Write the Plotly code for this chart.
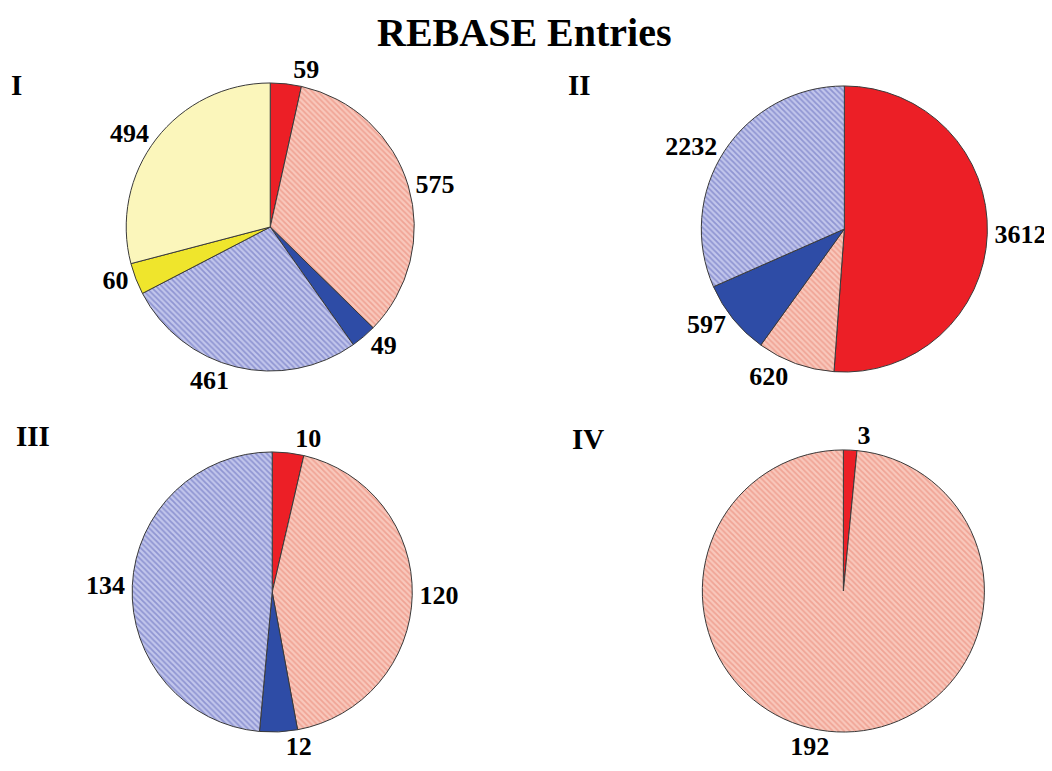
import plotly.graph_objects as go

# ---- data ----
panel_names = ["I", "II", "III", "IV"]
cats_I = ["a", "b", "c", "d", "e", "f"]
vals_I = [59, 575, 49, 461, 60, 494]
cats_II = ["a", "b", "c", "d"]
vals_II = [3612, 620, 597, 2232]
cats_III = ["a", "b", "c", "d"]
vals_III = [10, 120, 12, 134]
cats_IV = ["a", "b"]
vals_IV = [3, 192]
title_text = "REBASE Entries"

# ---- styles ----
OFF = 8  # page body margin
W, H = 1052 - OFF, 771 - OFF
RED = "#ec1f26"
PINK_BG = "#f9c8bc"
PINK_FG = "#f0a495"
LAV_BG = "#c2c6ec"
LAV_FG = "#8f95d2"
BLUE = "#2e4ca6"
YEL = "#efe52c"
LYEL = "#fbf6bb"

style = {
    "a": dict(color=RED, shape=""),
    "b": dict(color=PINK_BG, shape="\\", bg=PINK_BG, fg=PINK_FG),
    "c": dict(color=BLUE, shape=""),
    "d": dict(color=LAV_BG, shape="\\", bg=LAV_BG, fg=LAV_FG),
    "e": dict(color=YEL, shape=""),
    "f": dict(color=LYEL, shape=""),
}

def marker_for(cats):
    colors = [style[c]["color"] for c in cats]
    shapes = [style[c]["shape"] for c in cats]
    bgs = [style[c].get("bg", style[c]["color"]) for c in cats]
    fgs = [style[c].get("fg", style[c]["color"]) for c in cats]
    return dict(
        colors=colors,
        line=dict(color="#3a3a3a", width=1),
        pattern=dict(shape=shapes, bgcolor=bgs, fgcolor=fgs, size=4, solidity=0.45, fillmode="replace"),
    )

# pixel centers / radii of each pie in the screenshot (layout)
centers = [(272, 227, 145), (850, 229, 144), (274, 592, 141), (849, 591, 142)]

def domain(cx, cy, r):
    cx -= OFF
    cy -= OFF
    return dict(x=[(cx - r) / W, (cx + r) / W],
                y=[(H - cy - r) / H, (H - cy + r) / H])

def px(x, y):
    return (x - OFF) / W, 1 - (y - OFF) / H

fig = go.Figure()
for (cats, vals), (cx, cy, r) in zip(
        [(cats_I, vals_I), (cats_II, vals_II), (cats_III, vals_III), (cats_IV, vals_IV)], centers):
    fig.add_trace(go.Pie(
        labels=cats, values=vals, sort=False, direction="clockwise", rotation=0,
        marker=marker_for(cats),
        texttemplate="<b>%{value:d}</b>", textposition="outside",
        outsidetextfont=dict(family="Liberation Serif", size=26, color="black"),
        domain=domain(cx, cy, r), showlegend=False, hoverinfo="label+value",
    ))

panel_pos = [(17, 85), (583, 85), (33, 436), (592, 439)]
for name, (x, y) in zip(panel_names, panel_pos):
    ax, ay = px(x, y)
    fig.add_annotation(x=ax, y=ay, xref="paper", yref="paper",
                       text=f"<b>{name}</b>", showarrow=False, xanchor="center", yanchor="middle",
                       font=dict(family="Liberation Serif", size=29, color="black"))

tx, _ = px(528, 28)
fig.add_annotation(x=tx, y=1, xref="paper", yref="paper",
                   text=f"<b>{title_text}</b>", showarrow=False, xanchor="center", yanchor="top",
                   font=dict(family="Liberation Serif", size=40, color="black"))

fig.update_layout(width=W, height=H, margin=dict(l=0, r=0, t=0, b=0),
                  paper_bgcolor="white", plot_bgcolor="white")
fig.write_html("out.html")
